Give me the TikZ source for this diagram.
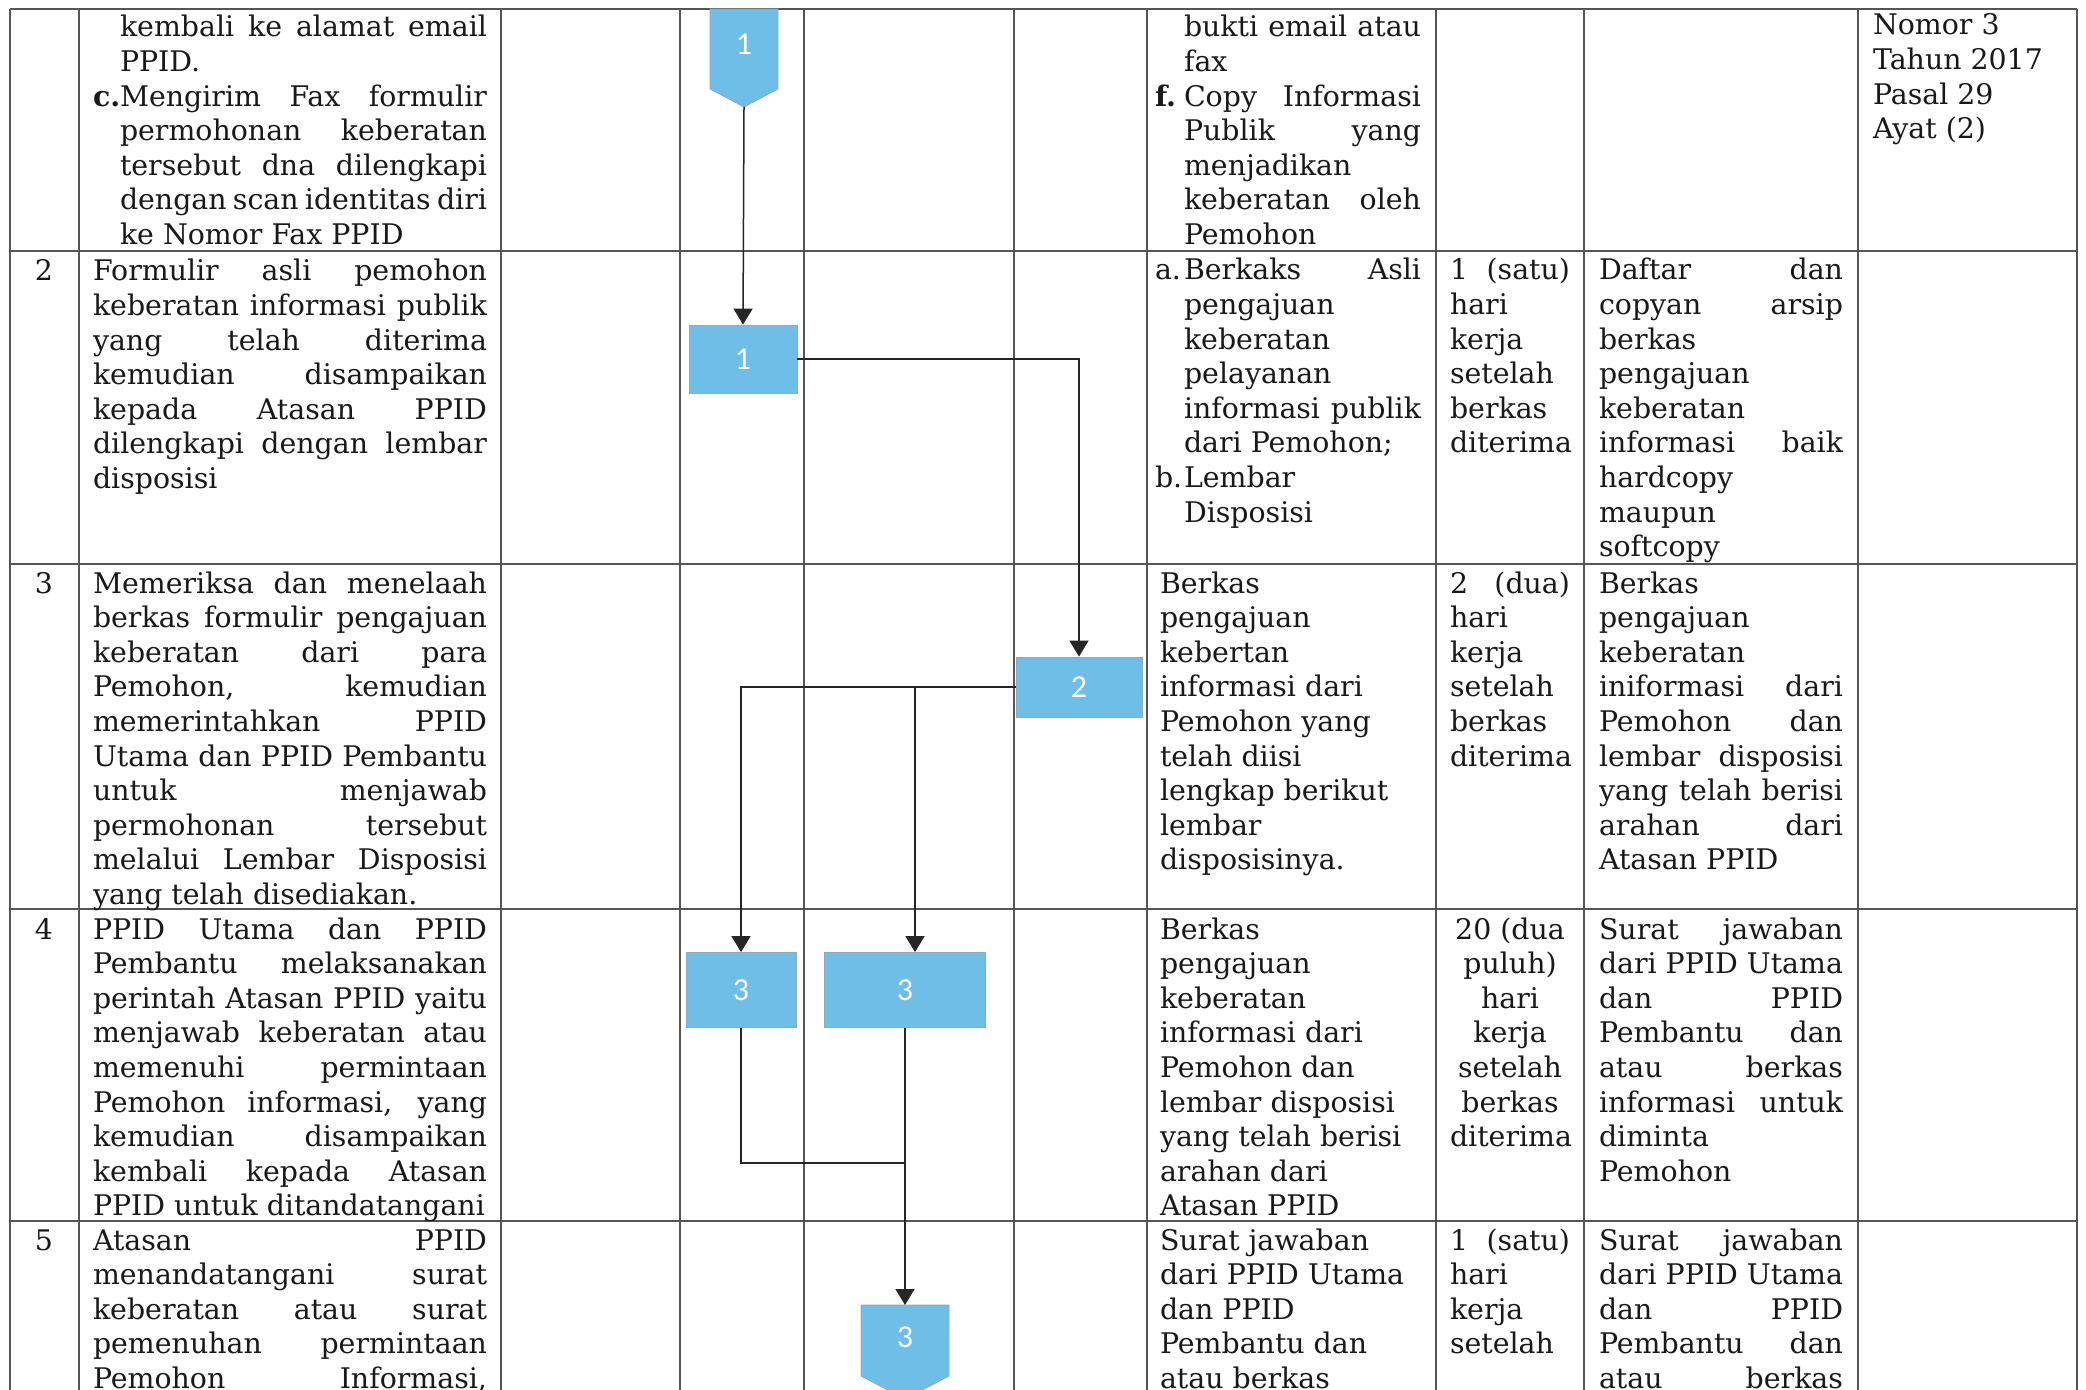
\documentclass[tikz,border=0pt]{standalone}
\usepackage{fontspec}
\setmainfont{DejaVu Serif}
\newfontfamily\lblfont{Carlito}
\usetikzlibrary{arrows.meta}
\definecolor{boxblue}{RGB}{110,190,232}
\definecolor{boxedge}{RGB}{140,170,195}
\definecolor{rulegrey}{RGB}{85,85,85}
\newdimen\pxu \pxu=0.5pt
\newdimen\indw
\newcommand\cellbox[2]{\vtop{\hsize=#1\pxu\relax\baselineskip=17.3pt\lineskip=0pt\lineskiplimit=-100pt\relax #2}}
\newcommand\LJ[1]{\hbox to\hsize{#1}}
\newcommand\LR[1]{\hbox to\hsize{#1\hfil}}
\newcommand\LC[1]{\hbox to\hsize{\hfil#1\hfil}}
\newcommand\LIJ[2]{\hbox to\hsize{\hbox to\indw{#1\hss}\hbox to\dimexpr\hsize-\indw\relax{#2}}}
\newcommand\LIR[2]{\hbox to\hsize{\hbox to\indw{#1\hss}#2\hfil}}
\tikzset{
  tableline/.style={draw=rulegrey, line width=0.7pt},
  cell/.style={anchor=base west, inner sep=0pt, outer sep=0pt, font=\fontsize{14.2pt}{17.3pt}\selectfont, text=black!90},
  rownum/.style={anchor=base, inner sep=0pt, font=\fontsize{14.2pt}{17.3pt}\selectfont, text=black!90},
  procbox/.style={rectangle, fill=boxblue, draw=boxedge, line width=0.4pt, inner sep=0pt, text=white, font=\lblfont\fontsize{16pt}{18pt}\selectfont},
  conn/.style={fill=boxblue, draw=boxedge, line width=0.4pt},
  plainlabel/.style={inner sep=0pt, text=white, font=\lblfont\fontsize{16pt}{18pt}\selectfont},
  flow/.style={draw=black!85, line width=0.75pt},
  flowarrow/.style={flow, -{Triangle[width=9.5pt,length=8pt]}},
}
\begin{document}
\begin{tikzpicture}[x=0.5pt,y=-0.5pt]
\useasboundingbox (0,0) rectangle (2086,1390);
\fill[white] (0,0) rectangle (2086,1390);
% table rules
\foreach \yy in {9,251,564,909,1221} \draw[tableline] (10,\yy) -- (2077,\yy);
\foreach \xx in {10,79,501,680,804,1014,1147,1436,1584,1858,2077} \draw[tableline] (\xx,9) -- (\xx,1396);

% flow shapes
\filldraw[conn] (710,9) -- (778,9) -- (778,89) -- (744,107) -- (710,89) -- cycle;
\node[plainlabel] (A) at (744,44) {1};
\coordinate (Atip) at (744,107);
\node[procbox, minimum width=54pt, minimum height=34pt] (B) at (743,359) {1};
\node[procbox, minimum width=63pt, minimum height=30pt] (C) at (1079,687) {2};
\node[procbox, minimum width=55pt, minimum height=37.5pt] (D) at (741,990) {3};
\node[procbox, minimum width=80.5pt, minimum height=37.5pt] (E) at (905,990) {3};
\filldraw[conn] (861,1305) -- (949,1305) -- (949,1376) -- (905,1399) -- (861,1376) -- cycle;
\node[plainlabel] (F) at (905,1337) {3};
\coordinate (Ftop) at (905,1305);

% connectors
\draw[flowarrow] (Atip) -- (B.north);
\draw[flowarrow] (B.east) -| (C.north);
\draw[flowarrow] (C.west) -| (D.north);
\coordinate (j1) at (915,687);
\draw[flowarrow] (j1) -- (j1 |- E.north);
\coordinate (j2) at (905,1163);
\draw[flow] (D.south) |- (j2);
\draw[flowarrow] (E.south) -- (Ftop);

% ---------- row 1 ----------
\node[cell] (r1c1) at (93,37) {\cellbox{394}{\indw=27\pxu
 \LIJ{}{kembali ke alamat email}
 \LIR{}{PPID.}
 \LIJ{\textbf{c.}}{Mengirim Fax formulir}
 \LIJ{}{permohonan keberatan}
 \LIJ{}{tersebut dna dilengkapi}
 \LIJ{}{dengan scan identitas diri}
 \LIR{}{ke Nomor Fax PPID}}};
\node[cell] (r1c6) at (1155,37) {\cellbox{266}{\indw=29\pxu
 \LIJ{}{bukti email atau}
 \LIR{}{fax}
 \LIJ{\textbf{f.}}{Copy Informasi}
 \LIJ{}{Publik yang}
 \LIR{}{menjadikan}
 \LIJ{}{keberatan oleh}
 \LIR{}{Pemohon}}};
\node[cell] (r1c9) at (1873,35) {\cellbox{190}{\LR{Nomor 3}\LR{Tahun 2017}\LR{Pasal 29}\LR{Ayat (2)}}};

% ---------- row 2 ----------
\node[rownum] (n2) at (44,281) {2};
\node[cell] (r2c1) at (93,281) {\cellbox{394}{
 \LJ{Formulir asli pemohon}
 \LJ{keberatan informasi publik}
 \LJ{yang telah diterima}
 \LJ{kemudian disampaikan}
 \LJ{kepada Atasan PPID}
 \LJ{dilengkapi dengan lembar}
 \LR{disposisi}}};
\node[cell] (r2c6) at (1155,280) {\cellbox{266}{\indw=29\pxu
 \LIJ{a.}{Berkaks Asli}
 \LIR{}{pengajuan}
 \LIR{}{keberatan}
 \LIR{}{pelayanan}
 \LIJ{}{informasi publik}
 \LIR{}{dari Pemohon;}
 \LIR{b.}{Lembar}
 \LIR{}{Disposisi}}};
\node[cell] (r2c7) at (1450,280) {\cellbox{120}{\LJ{1 (satu)}\LR{hari}\LR{kerja}\LR{setelah}\LR{berkas}\LR{diterima}}};
\node[cell] (r2c8) at (1599,280) {\cellbox{244}{\LJ{Daftar dan}\LJ{copyan arsip}\LR{berkas}\LR{pengajuan}\LR{keberatan}\LJ{informasi baik}\LR{hardcopy}\LR{maupun}\LR{softcopy}}};

% ---------- row 3 ----------
\node[rownum] (n3) at (44,593) {3};
\node[cell] (r3c1) at (93,593) {\cellbox{394}{
 \LJ{Memeriksa dan menelaah}
 \LJ{berkas formulir pengajuan}
 \LJ{keberatan dari para}
 \LJ{Pemohon, kemudian}
 \LJ{memerintahkan PPID}
 \LJ{Utama dan PPID Pembantu}
 \LJ{untuk menjawab}
 \LJ{permohonan tersebut}
 \LJ{melalui Lembar Disposisi}
 \LR{yang telah disediakan.}}};
\node[cell] (r3c6) at (1160,593) {\cellbox{260}{\LR{Berkas}\LR{pengajuan}\LR{kebertan}\LR{informasi dari}\LR{Pemohon yang}\LR{telah diisi}\LR{lengkap berikut}\LR{lembar}\LR{disposisinya.}}};
\node[cell] (r3c7) at (1450,593) {\cellbox{120}{\LJ{2 (dua)}\LR{hari}\LR{kerja}\LR{setelah}\LR{berkas}\LR{diterima}}};
\node[cell] (r3c8) at (1599,593) {\cellbox{244}{\LR{Berkas}\LR{pengajuan}\LR{keberatan}\LJ{iniformasi dari}\LJ{Pemohon dan}\LJ{lembar disposisi}\LJ{yang telah berisi}\LJ{arahan dari}\LR{Atasan PPID}}};

% ---------- row 4 ----------
\node[rownum] (n4) at (44,939) {4};
\node[cell] (r4c1) at (93,939) {\cellbox{394}{
 \LJ{PPID Utama dan PPID}
 \LJ{Pembantu melaksanakan}
 \LJ{perintah Atasan PPID yaitu}
 \LJ{menjawab keberatan atau}
 \LJ{memenuhi permintaan}
 \LJ{Pemohon informasi, yang}
 \LJ{kemudian disampaikan}
 \LJ{kembali kepada Atasan}
 \LR{PPID untuk ditandatangani}}};
\node[cell] (r4c6) at (1160,939) {\cellbox{260}{\LR{Berkas}\LR{pengajuan}\LR{keberatan}\LR{informasi dari}\LR{Pemohon dan}\LR{lembar disposisi}\LR{yang telah berisi}\LR{arahan dari}\LR{Atasan PPID}}};
\node[cell] (r4c7) at (1450,939) {\cellbox{120}{\LC{20 (dua}\LC{puluh)}\LC{hari}\LC{kerja}\LC{setelah}\LC{berkas}\LC{diterima}}};
\node[cell] (r4c8) at (1599,939) {\cellbox{244}{\LJ{Surat jawaban}\LJ{dari PPID Utama}\LJ{dan PPID}\LJ{Pembantu dan}\LJ{atau berkas}\LJ{informasi untuk}\LR{diminta}\LR{Pemohon}}};

% ---------- row 5 ----------
\node[rownum] (n5) at (44,1250) {5};
\node[cell] (r5c1) at (93,1250) {\cellbox{394}{
 \LJ{Atasan PPID}
 \LJ{menandatangani surat}
 \LJ{keberatan atau surat}
 \LJ{pemenuhan permintaan}
 \LJ{Pemohon Informasi,}}};
\node[cell] (r5c6) at (1160,1250) {\cellbox{260}{\LR{Surat jawaban}\LR{dari PPID Utama}\LR{dan PPID}\LR{Pembantu dan}\LR{atau berkas}}};
\node[cell] (r5c7) at (1450,1250) {\cellbox{120}{\LJ{1 (satu)}\LR{hari}\LR{kerja}\LR{setelah}}};
\node[cell] (r5c8) at (1599,1250) {\cellbox{244}{\LJ{Surat jawaban}\LJ{dari PPID Utama}\LJ{dan PPID}\LJ{Pembantu dan}\LJ{atau berkas}}};
\end{tikzpicture}
\end{document}
